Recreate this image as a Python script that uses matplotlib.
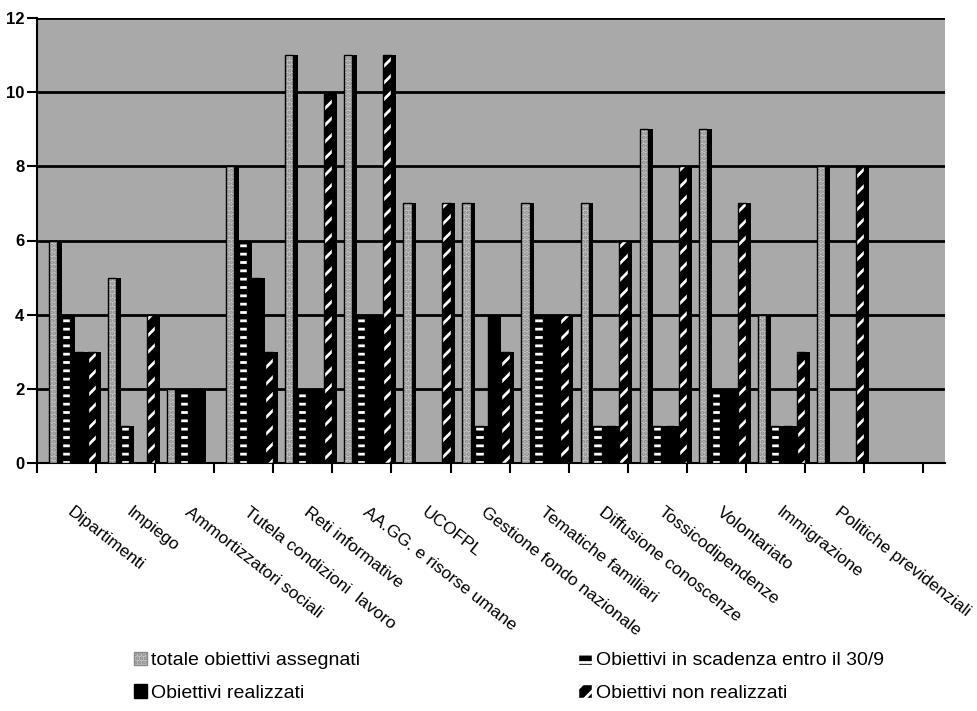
import matplotlib.pyplot as plt
from matplotlib.patches import Patch
import numpy as np

categories = ["Dipartimenti", "Impiego", "Ammortizzatori sociali",
              "Tutela condizioni  lavoro", "Reti informative",
              "AA.GG. e risorse umane", "UCOFPL", "Gestione fondo nazionale",
              "Tematiche familiari", "Diffusione conoscenze",
              "Tossicodipendenze", "Volontariato", "Immigrazione",
              "Politiche previdenziali"]
totale = [6, 5, 2, 8, 11, 11, 7, 7, 7, 7, 9, 9, 4, 8]
scadenza = [4, 1, 2, 6, 2, 4, 0, 1, 4, 1, 1, 2, 1, 0]
realizzati = [3, 0, 2, 5, 2, 4, 0, 4, 4, 1, 1, 2, 1, 0]
non_realizzati = [3, 4, 0, 3, 10, 11, 7, 3, 4, 6, 8, 7, 3, 8]
series_names = ["totale obiettivi assegnati", "Obiettivi in scadenza entro il 30/9",
                "Obiettivi realizzati", "Obiettivi non realizzati"]
yticks = [0, 2, 4, 6, 8, 10, 12]

plt.rcParams["font.family"] = ["Liberation Sans", "DejaVu Sans"]
plt.rcParams["hatch.linewidth"] = 2.0

# face styles: (facecolor, hatch colour, hatch)
styles = [
    ("#c6c6c6", "#8a8a8a", "...."),
    ("black", "white", "--"),
    ("black", "black", None),
    ("black", "white", "//"),
]
all_vals = [totale, scadenza, realizzati, non_realizzati]

fig = plt.figure(figsize=(9.78, 7.11), dpi=100)
ax = fig.add_axes([37 / 978, 1 - 463 / 711, (945 - 37) / 978, (463 - 18) / 711])
ax.set_facecolor("#a9a9a9")

x = np.arange(len(categories))
step = 0.22
face_w = 0.14
for k, vals in enumerate(all_vals):
    fc, hc, hatch = styles[k]
    xs = x + 0.2 + k * step
    # dark side of each column (3D look)
    ax.bar(xs, vals, width=step, align="edge", color="black", linewidth=0, zorder=3 + k)
    ax.bar(xs, vals, width=face_w, align="edge", facecolor=fc, edgecolor=hc,
           hatch=hatch, linewidth=0, zorder=3 + k)
    ax.bar(xs, vals, width=face_w, align="edge", fill=False, edgecolor="black",
           linewidth=1, zorder=3 + k)

ax.set_xlim(0, 15.37)
ax.set_ylim(0, 12)
ax.set_yticks(yticks)
ax.yaxis.grid(True, color="black", linewidth=2)
ax.set_axisbelow(True)

ax.set_xticks(np.arange(16), minor=True)
ax.set_xticks(x + 0.62, categories, rotation=-38, ha="left", va="top",
              rotation_mode="anchor", fontsize=12.5)
ax.tick_params(axis="x", which="major", length=0, pad=30)
ax.tick_params(axis="x", which="minor", length=7, width=1.5, direction="out")
ax.tick_params(axis="y", length=7, width=1.5, labelsize=12, pad=2)
for lab in ax.get_yticklabels():
    lab.set_fontweight("bold")

for side in ["top", "right"]:
    ax.spines[side].set_visible(False)
for side in ["left", "bottom"]:
    ax.spines[side].set_linewidth(1.5)

handles = []
for k in [0, 2, 1, 3]:
    fc, hc, hatch = styles[k]
    handles.append(Patch(facecolor=fc, edgecolor=hc, hatch=hatch, linewidth=1))
labels = [series_names[k] for k in [0, 2, 1, 3]]
fig.legend(handles, labels, ncol=2, loc="upper left",
           bbox_to_anchor=(124 / 978, 1 - 642 / 711), frameon=False,
           fontsize=14, handlelength=0.7, handleheight=0.7, handletextpad=0.2,
           columnspacing=11.2, labelspacing=0.75, borderpad=0)

fig.savefig("out.png", dpi=100)
